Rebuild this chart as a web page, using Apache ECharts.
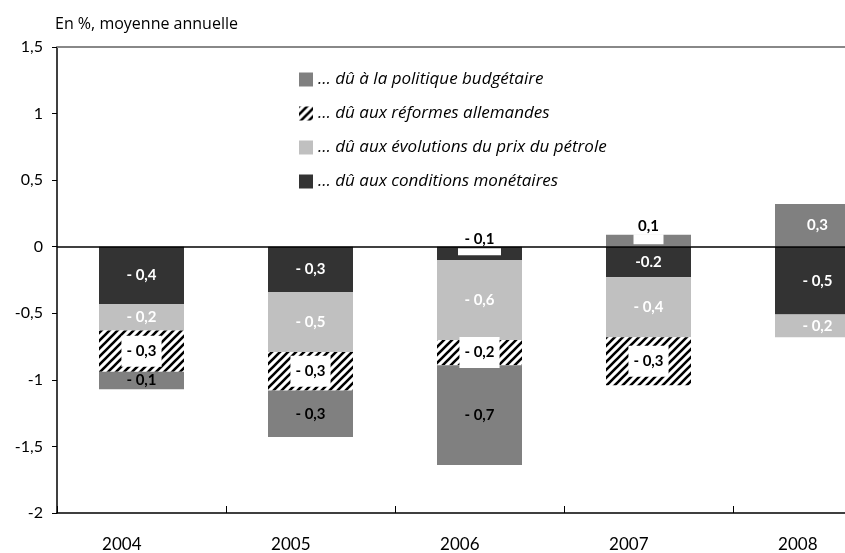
<!DOCTYPE html>
<html>
<head>
<meta charset="utf-8">
<script src="https://cdn.jsdelivr.net/npm/echarts@6/dist/echarts.min.js"></script>
<style>
  html, body { margin: 0; padding: 0; background: #fff; overflow: hidden; }
  /* the original plot runs past the right edge of the picture */
  #chart { width: 902px; height: 553px; }
</style>
</head>
<body>
<div id="chart"></div>
<script>
// data
const years = ['2004', '2005', '2006', '2007', '2008'];
const monetaires = [-0.43, -0.34, -0.10, -0.23, -0.51];
const petrole = [-0.20, -0.45, -0.60, -0.45, -0.17];
const reformes = [-0.31, -0.29, -0.19, -0.36, null];
const budget = [-0.13, -0.35, -0.75, 0.09, 0.32];

// printed labels (as they appear, rounded)
const monetairesLabels = ['- 0,4', '- 0,3', '- 0,1', '-0.2', '- 0,5'];
const petroleLabels = ['- 0,2', '- 0,5', '- 0,6', '- 0,4', '- 0,2'];
const reformesLabels = ['- 0,3', '- 0,3', '- 0,2', '- 0,3', ''];
const budgetLabels = ['- 0,1', '- 0,3', '- 0,7', '0,1', '0,3'];

const names = [
  '… dû à la politique budgétaire',
  '… dû aux réformes allemandes',
  '… dû aux évolutions du prix du pétrole',
  '… dû aux conditions monétaires'
];

const yMin = -2, yMax = 1.5, yStep = 0.5;

const FONT = 'Lato, "DejaVu Sans", sans-serif';
const FONT2 = '"Open Sans", Lato, sans-serif';

function hatch () {
  const c = document.createElement('canvas');
  c.width = 8; c.height = 8;
  const ctx = c.getContext('2d');
  ctx.fillStyle = '#fff';
  ctx.fillRect(0, 0, 8, 8);
  ctx.strokeStyle = '#000';
  ctx.lineWidth = 2.6;
  ctx.beginPath();
  ctx.moveTo(-4, 4); ctx.lineTo(4, -4);
  ctx.moveTo(0, 8); ctx.lineTo(8, 0);
  ctx.moveTo(4, 12); ctx.lineTo(12, 4);
  ctx.stroke();
  return c;
}

// tiny bars: value printed above, white notch inside the bar
function notch (v, text, lineH, boxW, boxH, dy) {
  return {
    value: v,
    label: {
      formatter: '{t|' + text + '}\n{w|}',
      offset: [0, dy],
      rich: {
        t: { color: '#000', fontFamily: FONT, fontSize: 15, fontWeight: 'bold', lineHeight: lineH },
        w: { backgroundColor: '#fff', width: boxW, height: boxH, lineHeight: boxH }
      }
    }
  };
}

const baseLabel = {
  show: true,
  position: 'inside',
  fontFamily: FONT,
  fontSize: 15,
  fontWeight: 'bold'
};

const chart = echarts.init(document.getElementById('chart'));

chart.setOption({
  animation: false,
  title: {
    text: 'En %, moyenne annuelle',
    left: 50,
    top: 11,
    textStyle: { fontFamily: FONT2, fontSize: 16, fontWeight: 'normal', color: '#000' }
  },
  legend: {
    data: names,
    orient: 'vertical',
    left: 294,
    top: 66,
    itemWidth: 14,
    itemHeight: 14,
    itemGap: 17,
    icon: 'rect',
    selectedMode: false,
    textStyle: { fontFamily: FONT2, fontSize: 17, fontStyle: 'italic', color: '#000' }
  },
  grid: { left: 57, right: 0, top: 47, bottom: 40 },
  xAxis: {
    type: 'category',
    data: years,
    axisLine: { onZero: false, lineStyle: { color: '#000', width: 1.5 } },
    axisTick: { show: true, inside: true, length: 7, lineStyle: { color: '#000', width: 1 } },
    axisLabel: { align: 'right', margin: 23, fontFamily: FONT, fontSize: 17, color: '#000' }
  },
  yAxis: {
    type: 'value',
    min: yMin,
    max: yMax,
    interval: yStep,
    axisLine: { show: true, lineStyle: { color: '#000', width: 1.5 } },
    axisTick: { show: true, length: 5, lineStyle: { color: '#000' } },
    splitLine: { show: false },
    axisLabel: {
      margin: 14,
      fontFamily: FONT,
      fontSize: 16,
      color: '#000',
      formatter: v => String(v).replace('.', ',')
    }
  },
  series: [
    {
      name: names[3],
      type: 'bar',
      stack: 'total',
      barWidth: 85,
      itemStyle: { color: '#333333' },
      label: Object.assign({}, baseLabel, { color: '#fff', formatter: p => monetairesLabels[p.dataIndex] }),
      data: monetaires.map((v, i) => Math.abs(v) < 0.11 ? notch(v, monetairesLabels[i], 19, 43, 7, -11) : v),
      markLine: {
        silent: true,
        symbol: 'none',
        label: { show: false },
        data: [
          { yAxis: 0, lineStyle: { color: '#000', width: 1.5, type: 'solid' } },
          { yAxis: yMax, lineStyle: { color: '#888', width: 2, type: 'solid' } }
        ]
      }
    },
    {
      name: names[2],
      type: 'bar',
      stack: 'total',
      barWidth: 85,
      itemStyle: { color: '#c0c0c0' },
      label: Object.assign({}, baseLabel, { color: '#fff', formatter: p => petroleLabels[p.dataIndex] }),
      data: petrole
    },
    {
      name: names[1],
      type: 'bar',
      stack: 'total',
      barWidth: 85,
      itemStyle: { color: { image: hatch(), repeat: 'repeat' } },
      label: Object.assign({}, baseLabel, {
        color: '#000',
        backgroundColor: '#fff',
        padding: [8, 5],
        formatter: p => reformesLabels[p.dataIndex]
      }),
      data: reformes
    },
    {
      name: names[0],
      type: 'bar',
      stack: 'total',
      barWidth: 85,
      itemStyle: { color: '#808080' },
      label: Object.assign({}, baseLabel, { formatter: p => budgetLabels[p.dataIndex] }),
      data: budget.map((v, i) => {
        if (Math.abs(v) < 0.11) return notch(v, budgetLabels[i], 17, 30, 10, -10);
        return { value: v, label: { color: v > 0 ? '#fff' : '#000' } };
      })
    }
  ]
});
</script>
</body>
</html>
